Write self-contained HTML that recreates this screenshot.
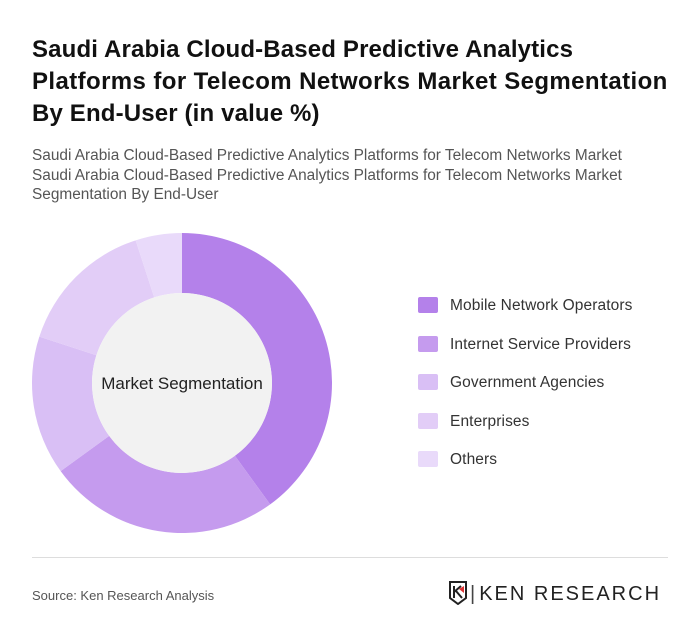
<!DOCTYPE html>
<html><head><meta charset="utf-8"><style>
body{margin:0;width:700px;height:642px;background:#fff;font-family:"Liberation Sans",sans-serif;overflow:hidden}
.t{position:absolute;left:32px;top:34px;font-size:24px;font-weight:bold;color:#111;line-height:32px;white-space:nowrap;letter-spacing:0.15px}
.s{position:absolute;left:32px;top:146px;font-size:15.4px;color:#555;line-height:19.5px;white-space:nowrap}
.leg{position:absolute;left:418px;font-size:15.5px;color:#333;letter-spacing:0.1px}
.leg span{display:inline-block;width:20px;height:16px;vertical-align:-3px;margin-right:12px;border-radius:2px}
.line{position:absolute;left:32px;top:557px;width:636px;height:1px;background:#ddd}
.src{position:absolute;left:32px;top:588px;font-size:13px;color:#555}
</style></head><body>
<div class="t">Saudi Arabia Cloud-Based Predictive Analytics<br><span style="letter-spacing:0.4px">Platforms for Telecom Networks Market Segmentation</span><br>By End-User (in value %)</div>
<div class="s">Saudi Arabia Cloud-Based Predictive Analytics Platforms for Telecom Networks Market<br>Saudi Arabia Cloud-Based Predictive Analytics Platforms for Telecom Networks Market<br>Segmentation By End-User</div>
<svg id="c" width="700" height="642" style="position:absolute;left:0;top:0"></svg>
<div id="legend"></div>
<div class="line"></div>
<div class="src">Source: Ken Research Analysis</div>
<div style="position:absolute;left:448px;top:581px;font-size:20px;color:#222;letter-spacing:2px;white-space:nowrap">
<svg width="20" height="24" style="vertical-align:-5px"><path d="M2 1h16v16l-8 6-8-6z" fill="none" stroke="#222" stroke-width="2"/><path d="M6 5v12M6 11l7-6M8 10l6 7" stroke="#222" stroke-width="2" fill="none"/><path d="M11 8l5-3v7z" fill="#d33"/></svg><span style="margin:0 2px;color:#444">|</span>KEN RESEARCH</div>
<script>
const categories=["Mobile Network Operators","Internet Service Providers","Government Agencies","Enterprises","Others"];
const values=[40,25,15,15,5];
const colors=["#b481ea","#c59bee","#d9bff5","#e2cdf7","#e9dafa"];
const svg=document.getElementById('c'),NS="http://www.w3.org/2000/svg";
const cx=182,cy=383,R=150,r=90;
const total=values.reduce((a,b)=>a+b,0);
function pt(a,rad){return [cx+rad*Math.sin(a),cy-rad*Math.cos(a)];}
let a0=0;
values.forEach((v,i)=>{
 const a1=a0+v/total*2*Math.PI,lg=(a1-a0)>Math.PI?1:0;
 const p1=pt(a0,R),p2=pt(a1,R),p3=pt(a1,r),p4=pt(a0,r);
 const p=document.createElementNS(NS,'path');
 p.setAttribute('d',`M${p1}A${R},${R} 0 ${lg} 1 ${p2}L${p3}A${r},${r} 0 ${lg} 0 ${p4}Z`);
 p.setAttribute('fill',colors[i]);
 
 
 svg.appendChild(p);a0=a1;
});
const c=document.createElementNS(NS,'circle');
c.setAttribute('cx',cx);c.setAttribute('cy',cy);c.setAttribute('r',r);c.setAttribute('fill','#f2f2f2');


svg.appendChild(c);
const t=document.createElementNS(NS,'text');
t.setAttribute('x',cx);t.setAttribute('y',cy+6);t.setAttribute('text-anchor','middle');
t.setAttribute('font-size','17');t.setAttribute('fill','#222');t.setAttribute('font-family','Liberation Sans,sans-serif');
t.textContent='Market Segmentation';


svg.appendChild(t);
const lg=document.getElementById('legend');
categories.forEach((n,i)=>{
 const d=document.createElement('div');d.className='leg';d.style.top=(297+i*38.5)+'px';
 d.innerHTML=`<span style="background:${colors[i]}"></span>${n}`;
 
 
 lg.appendChild(d);
});
</script>
</body></html>
